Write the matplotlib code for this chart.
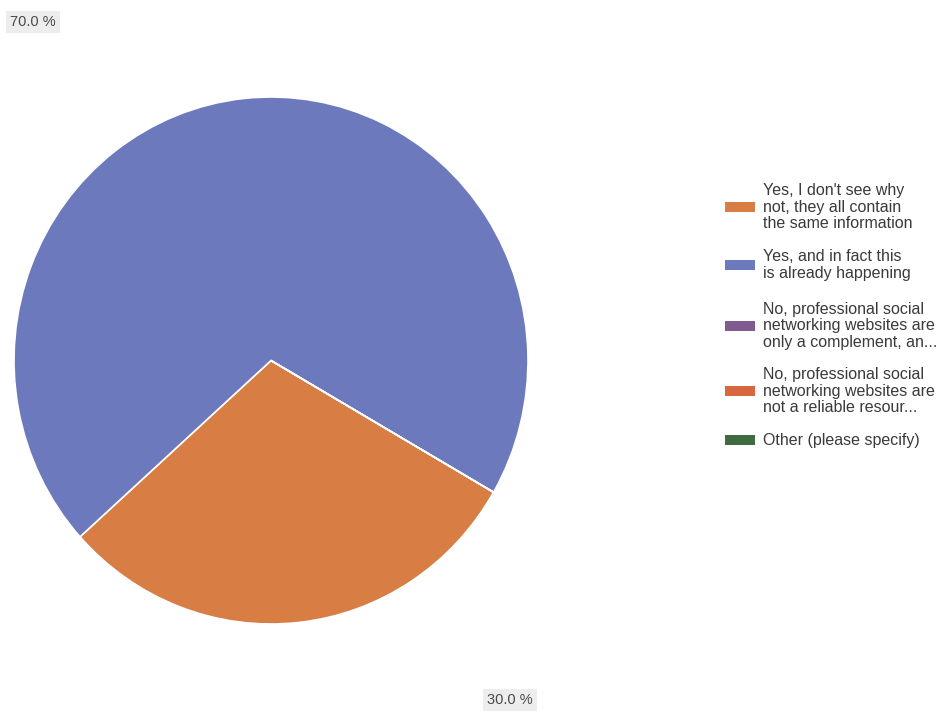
import matplotlib
matplotlib.use("Agg")
import matplotlib.pyplot as plt
from matplotlib.patches import Rectangle

# -- Data --
answers = [
    "Yes, I don't see why\nnot, they all contain\nthe same information",
    "Yes, and in fact this\nis already happening",
    "No, professional social\nnetworking websites are\nonly a complement, an...",
    "No, professional social\nnetworking websites are\nnot a reliable resour...",
    "Other (please specify)",
]
shares = [30.0, 70.0, 0.0, 0.0, 0.0]
colors = ["#D87E44", "#6C79BC", "#7E5A8E", "#D8663F", "#3F6B40"]

# layout (pixels, from top-left)
W, H = 944, 714
legend_y = [207, 265, 326, 391, 440]
label_pos = {1: (10, 22), 0: (487, 700)}

plt.rcParams["font.family"] = ["Liberation Sans", "DejaVu Sans"]

fig = plt.figure(figsize=(9.44, 7.14), dpi=100)
fig.patch.set_facecolor("white")

# pie box: left 14, right 528, top 97, bottom 624
ax = fig.add_axes([14 / W, 1 - 624 / H, 514 / W, 527 / H])
ax.pie(shares, colors=colors, startangle=-30, counterclock=False,
       wedgeprops=dict(edgecolor="white", linewidth=1.2))
ax.set_aspect("auto")
ax.set_xlim(-1, 1)
ax.set_ylim(-1, 1)
ax.axis("off")

# percentage labels
for i, (px, py) in label_pos.items():
    fig.text(px / W, 1 - py / H, f"{shares[i]:.1f} %", fontsize=10.5,
             color="#4A4A4A", ha="left", va="center",
             bbox=dict(facecolor="#EDEDED", edgecolor="none", pad=3))

# legend, drawn by hand to follow the reference spacing
for label, col, y in zip(answers, colors, legend_y):
    fig.add_artist(Rectangle((725 / W, 1 - (y + 5) / H), 30 / W, 10 / H,
                             transform=fig.transFigure, facecolor=col,
                             edgecolor="none"))
    fig.text(763 / W, 1 - y / H, label, fontsize=11.5, color="#3A3A3A",
             ha="left", va="center", linespacing=1.15)

fig.savefig("out.png", dpi=100)
